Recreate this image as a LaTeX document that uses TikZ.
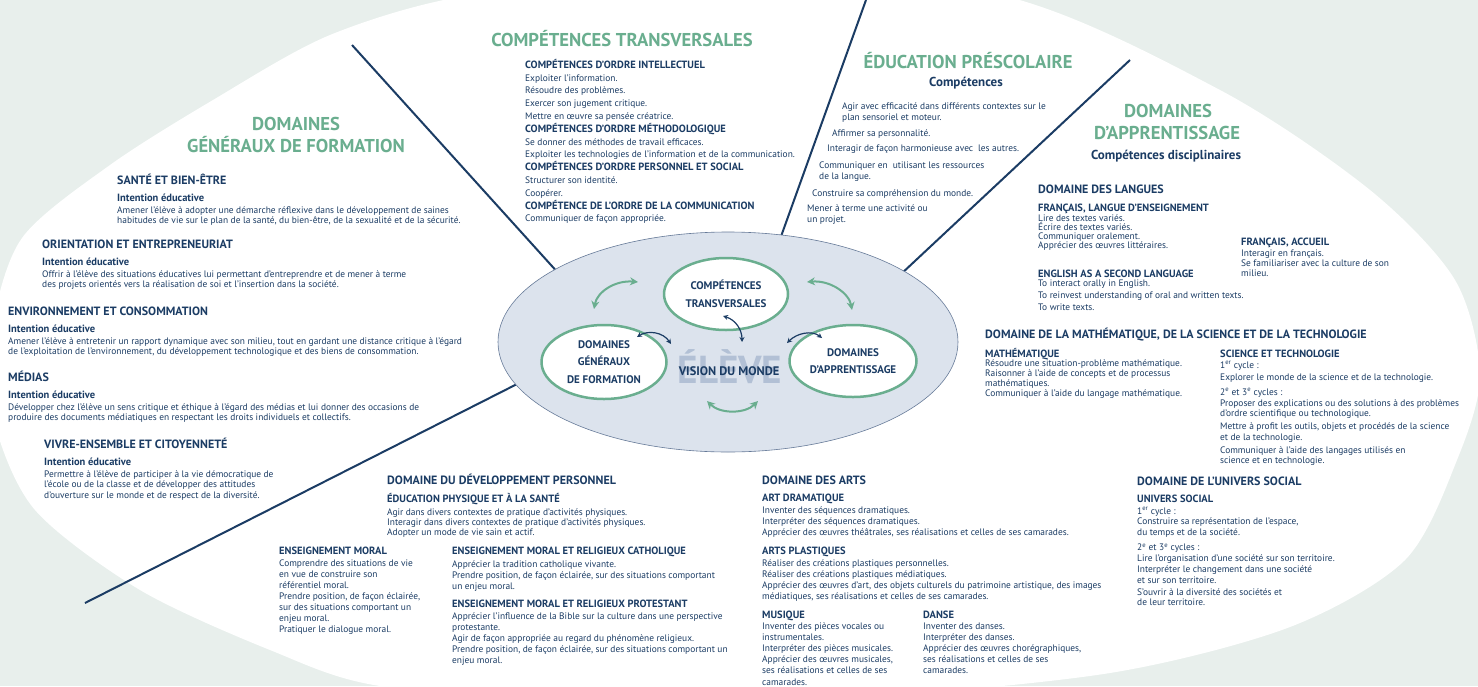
\documentclass[tikz,border=0pt]{standalone}
\usepackage{fontspec}
\setmainfont{PT Sans}
\usetikzlibrary{shapes.geometric,arrows.meta}
\definecolor{navy}{HTML}{1B3C64}
\definecolor{grn}{HTML}{6AAE8F}
\definecolor{bgc}{HTML}{E8EFEC}
\definecolor{elin}{HTML}{DCE3ED}
\definecolor{elmid}{HTML}{BFCBDD}
\definecolor{elout}{HTML}{7890B3}
\definecolor{elev}{HTML}{B2C0D5}
\pgfdeclareradialshading{ringshade}{\pgfpoint{0bp}{0bp}}{color(0bp)=(elin); color(39bp)=(elin); color(46bp)=(elmid); color(50bp)=(elout)}
\newcommand\xK[2]{\vtop{\baselineskip=#1pt\lineskiplimit=-100pt\lineskip=0pt #2}}
\newcommand\xT[1]{\hbox{\fontsize{12}{13}\selectfont\bfseries #1}}
\newcommand\xS[1]{\hbox{\fontsize{10.5}{11}\selectfont\bfseries #1}}
\newcommand\xB[1]{\hbox{\fontsize{9.4}{10}\selectfont #1}}
\newcommand\xG[1]{\vskip#1pt}
\tikzset{
  txt/.style={anchor=base west, inner sep=0pt, text=navy},
  ghead/.style={anchor=base, inner sep=0pt, text=grn, font=\fontsize{18.6}{20}\selectfont\bfseries},
  nhead/.style={anchor=base, inner sep=0pt, text=navy, font=\fontsize{13}{14}\selectfont\bfseries},
  radial/.style={draw=navy, line width=2pt},
  inell/.style={ellipse, draw=grn, line width=2.5pt, fill=white, inner sep=0pt, align=center, text=navy, font=\fontsize{11}{17.5}\selectfont\bfseries},
  garrow/.style={draw=grn, line width=2pt, arrows={Stealth[length=8pt,width=8pt]-Stealth[length=8pt,width=8pt]}},
  narrow/.style={draw=navy, line width=1.2pt, arrows={Stealth[length=5pt,width=5pt]-Stealth[length=5pt,width=5pt]}},
}
\begin{document}
\begin{tikzpicture}[x=1pt,y=-1pt]
\useasboundingbox (0,0) rectangle (1478,686);
\fill[bgc] (0,0) rectangle (1478,686);
\fill[white] plot[smooth cycle] coordinates {(700,-25) (1000,-5) (1220,90) (1370,190) (1455,280) (1480,375) (1457,460) (1405,560) (1290,627) (1110,673) (850,698) (600,700) (380,686) (270,650) (140,590) (35,510) (-6,420) (-8,330) (22,238) (110,165) (213,100) (330,35) (470,-5)};

% radial separators
\coordinate (l1a) at (352,45);  \coordinate (l1b) at (560,275);
\coordinate (l2a) at (866,0);   \coordinate (l2b) at (779,242);
\coordinate (l3a) at (1130,60); \coordinate (l3b) at (900,275);
\coordinate (l4a) at (525,380); \coordinate (l4b) at (85,603);
\draw[radial] (l1a) -- (l1b);
\draw[radial] (l2a) -- (l2b);
\draw[radial] (l3a) -- (l3b);
\draw[radial] (l4a) -- (l4b);

% centre
\node[ellipse, shade, shading=ringshade, draw=elout!85!black, line width=0.6pt, minimum width=460pt, minimum height=220pt, inner sep=0pt] (core) at (728,342) {};
\node[anchor=base, inner sep=0pt, text=elev, font=\fontsize{39}{40}\selectfont\bfseries] (eleve) at (730,383) {ÉLÈVE};
\node[anchor=base, inner sep=0pt, text=navy, font=\fontsize{12.4}{14}\selectfont\bfseries] (vision) at (729,375) {VISION DU MONDE};
\node[inell, minimum width=124pt, minimum height=72pt] (ect) at (726,294) {COMPÉTENCES\\TRANSVERSALES};
\node[inell, minimum width=125pt, minimum height=74pt] (edgf) at (604,362) {DOMAINES\\GÉNÉRAUX\\DE FORMATION};
\node[inell, minimum width=127pt, minimum height=72pt] (eda) at (853,361) {DOMAINES\\D’APPRENTISSAGE};

\coordinate (ga1s) at (594,309); \coordinate (ga1e) at (638,282);
\coordinate (ga2s) at (807,282); \coordinate (ga2e) at (852,310);
\coordinate (ga3s) at (707,401); \coordinate (ga3e) at (758,401);
\draw[garrow] (ga1s) .. controls (597,292) and (615,280) .. (ga1e);
\draw[garrow] (ga2s) .. controls (830,280) and (849,293) .. (ga2e);
\draw[garrow] (ga3s) .. controls (720,414) and (745,414) .. (ga3e);
\coordinate (na1s) at (637,337); \coordinate (na1e) at (671,344);
\coordinate (na2s) at (723,316); \coordinate (na2e) at (742,342);
\coordinate (na3s) at (787,343); \coordinate (na3e) at (822,338);
\draw[narrow] (na1s) .. controls (648,330) and (663,332) .. (na1e);
\draw[narrow] (na2s) .. controls (736,320) and (742,330) .. (na2e);
\draw[narrow] (na3s) .. controls (797,333) and (812,330) .. (na3e);

% green headings
\node[ghead] (dgf1) at (296,130.5) {DOMAINES};
\node[ghead] (dgf2) at (296,152.5) {GÉNÉRAUX DE FORMATION};
\node[ghead] (cth) at (622,46.5) {COMPÉTENCES TRANSVERSALES};
\node[ghead] (eph) at (968,68.5) {ÉDUCATION PRÉSCOLAIRE};
\node[nhead] (epc) at (966,86) {Compétences};
\node[ghead] (da1) at (1168,117.5) {DOMAINES};
\node[ghead] (da2) at (1167,139.5) {D’APPRENTISSAGE};
\node[nhead] (dac) at (1166,159.5) {Compétences disciplinaires};

% domaines generaux de formation
\node[txt] (sante) at (117,184.5) {\xK{10}{\xT{SANTÉ ET BIEN-ÊTRE}\xG{7}\xS{Intention éducative}\xG{1.5}%
\xB{Amener l’élève à adopter une démarche réflexive dans le développement de saines}%
\xB{habitudes de vie sur le plan de la santé, du bien-être, de la sexualité et de la sécurité.}}};
\node[txt] (orient) at (42,248.7) {\xK{10}{\xT{ORIENTATION ET ENTREPRENEURIAT}\xG{7}\xS{Intention éducative}\xG{1.5}%
\xB{Offrir à l’élève des situations éducatives lui permettant d’entreprendre et de mener à terme}%
\xB{des projets orientés vers la réalisation de soi et l’insertion dans la société.}}};
\node[txt] (envir) at (8,315.7) {\xK{10}{\xT{ENVIRONNEMENT ET CONSOMMATION}\xG{7}\xS{Intention éducative}\xG{1.5}%
\xB{Amener l’élève à entretenir un rapport dynamique avec son milieu, tout en gardant une distance critique à l’égard}%
\xB{de l’exploitation de l’environnement, du développement technologique et des biens de consommation.}}};
\node[txt] (medias) at (8,381.7) {\xK{10}{\xT{MÉDIAS}\xG{7}\xS{Intention éducative}\xG{1.5}%
\xB{Développer chez l’élève un sens critique et éthique à l’égard des médias et lui donner des occasions de}%
\xB{produire des documents médiatiques en respectant les droits individuels et collectifs.}}};
\node[txt] (vivre) at (44,448.7) {\xK{10.5}{\xT{VIVRE-ENSEMBLE ET CITOYENNETÉ}\xG{6.5}\xS{Intention éducative}\xG{1}%
\xB{Permettre à l’élève de participer à la vie démocratique de}%
\xB{l’école ou de la classe et de développer des attitudes}%
\xB{d’ouverture sur le monde et de respect de la diversité.}}};

% competences transversales
\node[txt] (ctlist) at (525,68.3) {\xK{12.8}{\xS{COMPÉTENCES D’ORDRE INTELLECTUEL}%
\xB{Exploiter l’information.}\xB{Résoudre des problèmes.}\xB{Exercer son jugement critique.}\xB{Mettre en œuvre sa pensée créatrice.}%
\xS{COMPÉTENCES D’ORDRE MÉTHODOLOGIQUE}%
\xB{Se donner des méthodes de travail efficaces.}\xB{Exploiter les technologies de l’information et de la communication.}%
\xS{COMPÉTENCES D’ORDRE PERSONNEL ET SOCIAL}%
\xB{Structurer son identité.}\xB{Coopérer.}%
\xS{COMPÉTENCE DE L’ORDRE DE LA COMMUNICATION}%
\xB{Communiquer de façon appropriée.}}};

% education prescolaire
\node[txt] (eplist) at (807,109) {\xK{11}{\xB{\hskip35pt Agir avec efficacité dans différents contextes sur le}\xB{\hskip35pt plan sensoriel et moteur.}%
\xG{5}\xB{\hskip25pt Affirmer sa personnalité.}%
\xG{4}\xB{\hskip20pt Interagir de façon harmonieuse avec~ les autres.}%
\xG{6}\xB{\hskip12pt Communiquer en~ utilisant les ressources}\xB{\hskip12pt de la langue.}%
\xG{6}\xB{\hskip5pt Construire sa compréhension du monde.}%
\xG{4}\xB{Mener à terme une activité ou}\xB{un projet.}}};

% domaines d'apprentissage : langues
\node[txt] (langues) at (1038,193.7) {\xK{9.3}{\xT{DOMAINE DES LANGUES}\xG{8.2}\xS{FRANÇAIS, LANGUE D’ENSEIGNEMENT}\xG{0.5}%
\xB{Lire des textes variés.}\xB{Écrire des textes variés.}\xB{Communiquer oralement.}\xB{Apprécier des œuvres littéraires.}%
\xG{19}\xS{ENGLISH AS A SECOND LANGUAGE}%
\xB{To interact orally in English.}\xG{3}\xB{To reinvest understanding of oral and written texts.}\xG{2.5}\xB{To write texts.}}};
\node[txt] (accueil) at (1241,245.2) {\xK{10.3}{\xS{FRANÇAIS, ACCUEIL}\xG{0.5}%
\xB{Interagir en français.}\xB{Se familiariser avec la culture de son}\xB{milieu.}}};

% mathematique science technologie
\node[txt] (mst) at (985,338.7) {\xK{10}{\xT{DOMAINE DE LA MATHÉMATIQUE, DE LA SCIENCE ET DE LA TECHNOLOGIE}}};
\node[txt] (math) at (985,357.2) {\xK{10}{\xS{MATHÉMATIQUE}\xG{-1}%
\xB{Résoudre une situation-problème mathématique.}\xB{Raisonner à l’aide de concepts et de processus}\xB{mathématiques.}\xB{Communiquer à l’aide du langage mathématique.}}};
\node[txt] (scitech) at (1220,357.2) {\xK{10.5}{\xS{SCIENCE ET TECHNOLOGIE}\xG{0.3}%
\xB{1\textsuperscript{er} cycle :}\xG{1.5}\xB{Explorer le monde de la science et de la technologie.}%
\xG{4.5}\xB{2\textsuperscript{e} et 3\textsuperscript{e} cycles :}\xG{0.5}%
\xB{Proposer des explications ou des solutions à des problèmes}\xB{d’ordre scientifique ou technologique.}%
\xG{2.5}\xB{Mettre à profit les outils, objets et procédés de la science}\xB{et de la technologie.}%
\xG{2.5}\xB{Communiquer à l’aide des langages utilisés en}\xB{science et en technologie.}}};

% univers social
\node[txt] (univers) at (1137,485.7) {\xK{10.8}{\xT{DOMAINE DE L’UNIVERS SOCIAL}\xG{5.7}\xS{UNIVERS SOCIAL}\xG{1}%
\xB{1\textsuperscript{er} cycle :}\xB{Construire sa représentation de l’espace,}\xB{du temps et de la société.}%
\xG{4.5}\xB{2\textsuperscript{e} et 3\textsuperscript{e} cycles :}%
\xB{Lire l’organisation d’une société sur son territoire.}\xB{Interpréter le changement dans une société}\xB{et sur son territoire.}%
\xG{1}\xB{S’ouvrir à la diversité des sociétés et}\xB{de leur territoire.}}};

% developpement personnel
\node[txt] (devperso) at (387,484.7) {\xK{10}{\xT{DOMAINE DU DÉVELOPPEMENT PERSONNEL}\xG{7.5}\xS{ÉDUCATION PHYSIQUE ET À LA SANTÉ}\xG{2.8}%
\xB{Agir dans divers contextes de pratique d’activités physiques.}\xB{Interagir dans divers contextes de pratique d’activités physiques.}\xB{Adopter un mode de vie sain et actif.}}};
\node[txt] (moral) at (279,554.2) {\xK{11}{\xS{ENSEIGNEMENT MORAL}\xG{0.8}%
\xB{Comprendre des situations de vie}\xB{en vue de construire son}\xB{référentiel moral.}\xB{Prendre position, de façon éclairée,}%
\xB{sur des situations comportant un}\xB{enjeu moral.}\xB{Pratiquer le dialogue moral.}}};
\node[txt] (religieux) at (452,554.2) {\xK{11}{\xS{ENSEIGNEMENT MORAL ET RELIGIEUX CATHOLIQUE}\xG{1.8}%
\xB{Apprécier la tradition catholique vivante.}\xB{Prendre position, de façon éclairée, sur des situations comportant}\xB{un enjeu moral.}%
\xG{7.2}\xS{ENSEIGNEMENT MORAL ET RELIGIEUX PROTESTANT}\xG{0.8}%
\xB{Apprécier l’influence de la Bible sur la culture dans une perspective}\xB{protestante.}%
\xB{Agir de façon appropriée au regard du phénomène religieux.}\xB{Prendre position, de façon éclairée, sur des situations comportant un}\xB{enjeu moral.}}};

% arts
\node[txt] (arts) at (762,484.7) {\xK{11}{\xT{DOMAINE DES ARTS}\xG{5.5}\xS{ART DRAMATIQUE}\xG{0.8}%
\xB{Inventer des séquences dramatiques.}\xB{Interpréter des séquences dramatiques.}\xB{Apprécier des œuvres théâtrales, ses réalisations et celles de ses camarades.}%
\xG{8.2}\xS{ARTS PLASTIQUES}\xG{0.8}%
\xB{Réaliser des créations plastiques personnelles.}\xB{Réaliser des créations plastiques médiatiques.}%
\xB{Apprécier des œuvres d’art, des objets culturels du patrimoine artistique, des images}\xB{médiatiques, ses réalisations et celles de ses camarades.}}};
\node[txt] (musique) at (762,618.2) {\xK{11.2}{\xS{MUSIQUE}\xG{-0.4}%
\xB{Inventer des pièces vocales ou}\xB{instrumentales.}\xB{Interpréter des pièces musicales.}\xB{Apprécier des œuvres musicales,}\xB{ses réalisations et celles de ses}\xB{camarades.}}};
\node[txt] (danse) at (923,618.2) {\xK{11.2}{\xS{DANSE}\xG{-0.4}%
\xB{Inventer des danses.}\xB{Interpréter des danses.}\xB{Apprécier des œuvres chorégraphiques,}\xB{ses réalisations et celles de ses}\xB{camarades.}}};
\end{tikzpicture}
\end{document}
